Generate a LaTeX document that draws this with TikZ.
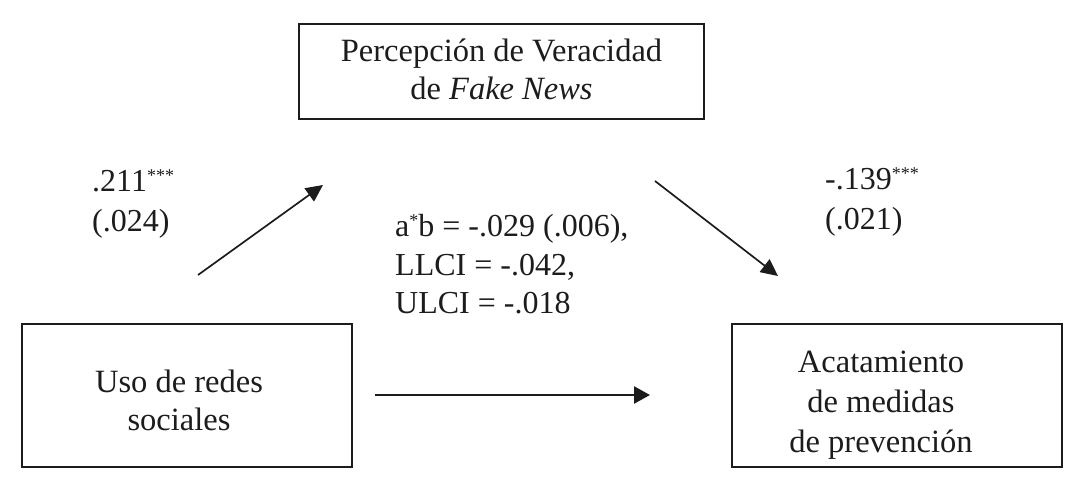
\documentclass[tikz,border=0pt]{standalone}
\usepackage{fontspec}
\setmainfont{Liberation Serif}
\usetikzlibrary{arrows.meta}
\definecolor{ink}{HTML}{1C1C1C}
\newcommand{\supast}[1]{\raisebox{10pt}{\fontsize{18}{18}\selectfont #1}}
\newcommand{\lines}[2]{\begin{tabular}[t]{@{}#1@{}}#2\end{tabular}}
\begin{document}
\begin{tikzpicture}[x=1pt,y=-1pt,
  box/.style={draw=ink, line width=2.8pt, rectangle, inner sep=0pt},
  txt/.style={inner sep=0pt, text=ink, anchor=base},
  lbl/.style={inner sep=0pt, text=ink, anchor=base west},
  path/.style={draw=ink, line width=1.7pt, -{Triangle[length=17pt,width=16pt]}},
  direct/.style={draw=ink, line width=2.6pt, -{Triangle[length=16pt,width=17pt]}}
]
\useasboundingbox (0,0) rectangle (1076,478);
% boxes
\node[box, minimum width=405pt, minimum height=95pt] (med) at (501.5,71.5) {};
\node[box, minimum width=330pt, minimum height=143pt] (x) at (187,395.5) {};
\node[box, minimum width=330pt, minimum height=143pt] (y) at (897,395.5) {};
% box texts
\node[txt, font=\fontsize{32.5}{38}\selectfont] (medtxt) at (501.5,62)
  {\lines{c}{Percepción de Veracidad\\de \textit{Fake News}}};
\node[txt, font=\fontsize{32.5}{38}\selectfont] (xtxt) at (179,392)
  {\lines{c}{Uso de redes\\sociales}};
\node[txt, font=\fontsize{32.5}{40}\selectfont] (ytxt) at (881,372)
  {\lines{c}{Acatamiento\\de medidas\\de prevención}};
% connectors
\coordinate (a1) at (198,275);
\coordinate (a2) at (323,185);
\coordinate (b1) at (655,181);
\coordinate (b2) at (778,276);
\coordinate (c1) at (375,395);
\coordinate (c2) at (650,395);
\draw[path] (a1) -- (a2);
\draw[path] (b1) -- (b2);
\draw[direct] (c1) -- (c2);
% labels
\node[lbl, font=\fontsize{32}{40}\selectfont] (la) at (92,192)
  {\lines{l}{.211\supast{***}\\(.024)}};
\node[lbl, font=\fontsize{32}{40}\selectfont] (lb) at (825,190)
  {\lines{l}{-.139\supast{***}\\(.021)}};
\node[lbl, font=\fontsize{32}{38.5}\selectfont] (lab) at (395,237)
  {\lines{l}{a\supast{*}b = -.029 (.006),\\LLCI = -.042,\\ULCI = -.018}};
\end{tikzpicture}
\end{document}
